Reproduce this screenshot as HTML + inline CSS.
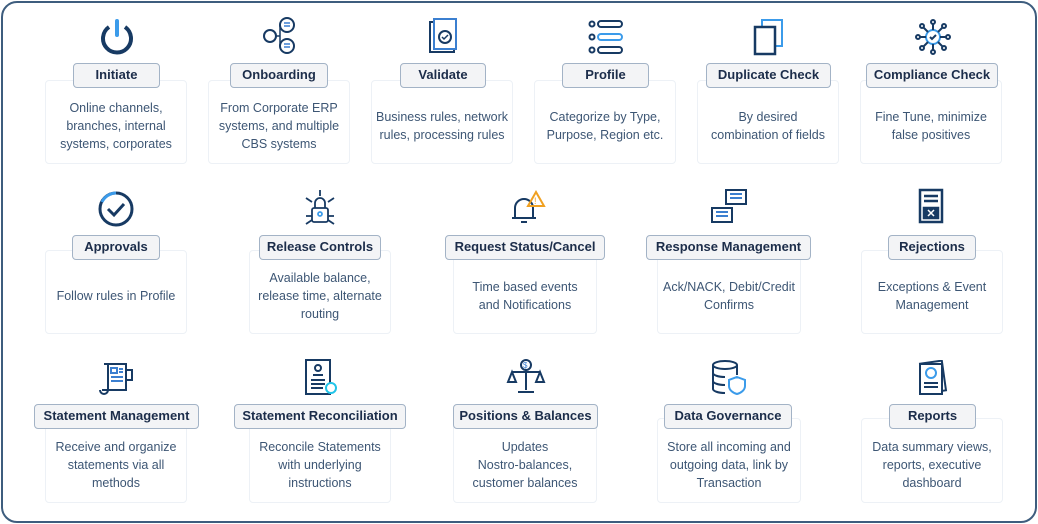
<!DOCTYPE html>
<html><head><style>
*{margin:0;padding:0;box-sizing:border-box}
body{width:1038px;height:524px;background:#fff;font-family:"Liberation Sans",sans-serif;position:relative;overflow:hidden}
.frame{position:absolute;left:1px;top:1px;width:1036px;height:522px;border:2px solid #3e5d7e;border-radius:16px}
.card{position:absolute;border:1px solid #edf1f6;border-radius:4px;background:#fff;color:#3d5674;font-size:12.5px;line-height:18px;text-align:center;display:flex;align-items:center;justify-content:center;padding:8px 4px 0}
.lab{position:absolute;height:25px;background:#f3f4f6;border:1.5px solid #a3b3c6;border-radius:4px;color:#1c2d4a;font-size:13px;font-weight:bold;text-align:center;line-height:22px;white-space:nowrap}
svg{position:absolute}
</style></head><body>
<div class="frame"></div>

<!-- Row 1 -->
<div class="card" style="left:45px;top:80px;width:142px;height:84px">Online channels,<br>branches, internal<br>systems, corporates</div>
<div class="lab" style="left:73px;top:63px;width:87px">Initiate</div>
<div class="card" style="left:208px;top:80px;width:142px;height:84px">From Corporate ERP<br>systems, and multiple<br>CBS systems</div>
<div class="lab" style="left:230px;top:63px;width:98px">Onboarding</div>
<div class="card" style="left:371px;top:80px;width:142px;height:84px">Business rules, network<br>rules, processing rules</div>
<div class="lab" style="left:400px;top:63px;width:86px">Validate</div>
<div class="card" style="left:534px;top:80px;width:142px;height:84px">Categorize by Type,<br>Purpose, Region etc.</div>
<div class="lab" style="left:562px;top:63px;width:87px">Profile</div>
<div class="card" style="left:697px;top:80px;width:142px;height:84px">By desired<br>combination of fields</div>
<div class="lab" style="left:706px;top:63px;width:125px">Duplicate Check</div>
<div class="card" style="left:860px;top:80px;width:142px;height:84px">Fine Tune, minimize<br>false positives</div>
<div class="lab" style="left:866px;top:63px;width:132px">Compliance Check</div>

<!-- Row 2 -->
<div class="card" style="left:45px;top:250px;width:142px;height:84px">Follow rules in Profile</div>
<div class="lab" style="left:72px;top:235px;width:88px">Approvals</div>
<div class="card" style="left:249px;top:250px;width:142px;height:84px">Available balance,<br>release time, alternate<br>routing</div>
<div class="lab" style="left:259px;top:235px;width:122px">Release Controls</div>
<div class="card" style="left:453px;top:250px;width:144px;height:84px">Time based events<br>and Notifications</div>
<div class="lab" style="left:445px;top:235px;width:160px">Request Status/Cancel</div>
<div class="card" style="left:657px;top:250px;width:144px;height:84px">Ack/NACK, Debit/Credit<br>Confirms</div>
<div class="lab" style="left:646px;top:235px;width:165px">Response Management</div>
<div class="card" style="left:861px;top:250px;width:142px;height:84px">Exceptions &amp; Event<br>Management</div>
<div class="lab" style="left:888px;top:235px;width:88px">Rejections</div>

<!-- Row 3 -->
<div class="card" style="left:45px;top:418px;width:142px;height:85px">Receive and organize<br>statements via all<br>methods</div>
<div class="lab" style="left:34px;top:404px;width:165px">Statement Management</div>
<div class="card" style="left:249px;top:418px;width:142px;height:85px">Reconcile Statements<br>with underlying<br>instructions</div>
<div class="lab" style="left:234px;top:404px;width:172px">Statement Reconciliation</div>
<div class="card" style="left:453px;top:418px;width:144px;height:85px">Updates<br>Nostro-balances,<br>customer balances</div>
<div class="lab" style="left:453px;top:404px;width:145px">Positions &amp; Balances</div>
<div class="card" style="left:657px;top:418px;width:144px;height:85px">Store all incoming and<br>outgoing data, link by<br>Transaction</div>
<div class="lab" style="left:664px;top:404px;width:128px">Data Governance</div>
<div class="card" style="left:861px;top:418px;width:142px;height:85px">Data summary views,<br>reports, executive<br>dashboard</div>
<div class="lab" style="left:889px;top:404px;width:87px">Reports</div>

<!-- Icons row 1 -->
<svg style="left:98px;top:18px" width="38" height="38" viewBox="0 0 38 38"><path d="M11 9 A14 14 0 1 0 27 9" fill="none" stroke="#173a63" stroke-width="4"/><line x1="19" y1="3" x2="19" y2="17" stroke="#3b9bea" stroke-width="4" stroke-linecap="round"/></svg>
<svg style="left:260px;top:16px" width="38" height="40" viewBox="0 0 38 40"><circle cx="10" cy="20" r="6" fill="none" stroke="#173a63" stroke-width="2"/><circle cx="27" cy="9" r="7" fill="none" stroke="#173a63" stroke-width="2"/><circle cx="27" cy="30" r="7" fill="none" stroke="#173a63" stroke-width="2"/><path d="M16 20h4V9h0M20 20v10" stroke="#173a63" fill="none" stroke-width="1.5"/><path d="M24 7h6M24 10h6M24 28h6M24 31h6" stroke="#3b7fd0" stroke-width="1.5"/></svg>
<svg style="left:426px;top:18px" width="34" height="36" viewBox="0 0 34 36"><rect x="4" y="4" width="24" height="30" fill="none" stroke="#173a63" stroke-width="2"/><rect x="8" y="1" width="22" height="30" fill="#fff" stroke="#3b7fd0" stroke-width="2"/><circle cx="19" cy="19" r="6" fill="none" stroke="#173a63" stroke-width="2"/><path d="M16 19l2 2 4-4" stroke="#173a63" fill="none" stroke-width="1.5"/></svg>
<svg style="left:588px;top:20px" width="36" height="34" viewBox="0 0 36 34"><g fill="none" stroke="#173a63" stroke-width="2"><circle cx="4" cy="4" r="2.5"/><circle cx="4" cy="17" r="2.5"/><circle cx="4" cy="30" r="2.5"/><rect x="10" y="1" width="24" height="6" rx="3"/><rect x="10" y="14" width="24" height="6" rx="3" stroke="#3b9bea"/><rect x="10" y="27" width="24" height="6" rx="3"/></g></svg>
<svg style="left:752px;top:18px" width="34" height="38" viewBox="0 0 34 38"><rect x="10" y="2" width="20" height="26" fill="none" stroke="#3b9bea" stroke-width="2"/><rect x="3" y="9" width="20" height="27" fill="#fff" stroke="#173a63" stroke-width="2.5"/></svg>
<svg style="left:914px;top:18px" width="38" height="38" viewBox="0 0 38 38"><g stroke="#173a63" stroke-width="2" fill="none"><circle cx="19" cy="19" r="7" stroke="#3b9bea"/><path d="M16 19l2 2 4-4"/><path d="M19 12V5M19 26v7M12 19H5M26 19h7M14 14l-5-5M24 14l5-5M14 24l-5 5M24 24l5 5"/><circle cx="19" cy="4" r="2"/><circle cx="19" cy="34" r="2"/><circle cx="4" cy="19" r="2"/><circle cx="34" cy="19" r="2"/><circle cx="8" cy="8" r="2"/><circle cx="30" cy="8" r="2"/><circle cx="8" cy="30" r="2"/><circle cx="30" cy="30" r="2"/></g></svg>

<!-- Icons row 2 -->
<svg style="left:97px;top:190px" width="38" height="38" viewBox="0 0 38 38"><circle cx="19" cy="19" r="16" fill="none" stroke="#173a63" stroke-width="3"/><path d="M5 12A16 16 0 0 1 19 3" stroke="#3b9bea" stroke-width="3" fill="none"/><path d="M11 19l6 6 10-11" stroke="#173a63" stroke-width="3" fill="none"/></svg>
<svg style="left:302px;top:188px" width="36" height="40" viewBox="0 0 36 40"><g stroke="#173a63" stroke-width="1.8" fill="none"><rect x="10" y="20" width="16" height="14" rx="2"/><path d="M13 20v-5a5 5 0 0 1 10 0v5"/><path d="M4 10l6 4M32 10l-6 4M18 2v6M4 28h6M26 28h6M4 36l6-4M32 36l-6-4"/><circle cx="18" cy="26" r="2" stroke="#3b9bea"/></g></svg>
<svg style="left:506px;top:190px" width="40" height="36" viewBox="0 0 40 36"><g stroke="#173a63" stroke-width="2" fill="none"><path d="M6 28h24M9 28v-10a9 9 0 0 1 18 0v10M15 32h6"/><path d="M30 2l8 14h-16z" stroke="#f0a020"/></g><text x="28" y="14" font-size="9" fill="#f0a020" font-family="Liberation Sans">!</text></svg>
<svg style="left:710px;top:188px" width="40" height="38" viewBox="0 0 40 38"><g stroke="#173a63" stroke-width="2" fill="none"><rect x="16" y="2" width="20" height="14"/><rect x="2" y="20" width="20" height="14"/><path d="M20 6h12M20 10h12M6 24h12M6 28h12" stroke="#3b7fd0"/></g></svg>
<svg style="left:914px;top:188px" width="36" height="38" viewBox="0 0 36 38"><g stroke="#173a63" stroke-width="2.5" fill="none"><rect x="6" y="2" width="22" height="32"/><path d="M10 8h14M10 13h14"/><rect x="10" y="20" width="14" height="10" fill="#173a63"/></g><path d="M14 22l6 6M20 22l-6 6" stroke="#fff" stroke-width="1.5"/></svg>

<!-- Icons row 3 -->
<svg style="left:98px;top:362px" width="38" height="34" viewBox="0 0 38 34"><g stroke="#173a63" stroke-width="2" fill="none"><path d="M6 2h22v26H4"/><path d="M2 28a4 4 0 0 0 8 0V2"/><rect x="28" y="8" width="6" height="10"/><rect x="13" y="6" width="6" height="5" stroke="#3b7fd0"/><path d="M21 7h4M21 10h4M13 15h12M13 19h12" stroke="#3b7fd0"/></g></svg>
<svg style="left:302px;top:358px" width="36" height="40" viewBox="0 0 36 40"><g stroke="#173a63" stroke-width="2" fill="none"><rect x="4" y="2" width="24" height="34"/><circle cx="16" cy="10" r="3"/><path d="M11 17h10M9 22h14M9 26h14M9 30h12"/></g><circle cx="29" cy="30" r="5" fill="#fff" stroke="#22c4e8" stroke-width="2"/></svg>
<svg style="left:506px;top:358px" width="40" height="38" viewBox="0 0 40 38"><g stroke="#173a63" stroke-width="2" fill="none"><circle cx="20" cy="7" r="5"/><path d="M20 12v20M12 34h16M6 14h28M6 14l-4 10h8zM34 14l-4 10h8z"/></g><text x="17" y="10" font-size="8" fill="#3b7fd0" font-family="Liberation Sans">$</text></svg>
<svg style="left:710px;top:360px" width="38" height="36" viewBox="0 0 38 36"><g stroke="#173a63" stroke-width="2" fill="none"><ellipse cx="15" cy="5" rx="12" ry="4"/><path d="M3 5v24c0 2 5 4 12 4M27 5v10M3 13c0 2 5 4 12 4M3 21c0 2 5 4 12 4"/><path d="M27 17l8 3v6c0 4-4 7-8 8-4-1-8-4-8-8v-6z" stroke="#3b9bea"/></g></svg>
<svg style="left:914px;top:360px" width="38" height="36" viewBox="0 0 38 36"><g stroke="#173a63" stroke-width="2" fill="none"><rect x="8" y="2" width="22" height="30" transform="rotate(-8 19 17)"/><rect x="6" y="4" width="22" height="30" fill="#fff"/><circle cx="17" cy="13" r="5" stroke="#3b9bea"/><path d="M10 23h14M10 27h14"/></g></svg>
</body></html>
